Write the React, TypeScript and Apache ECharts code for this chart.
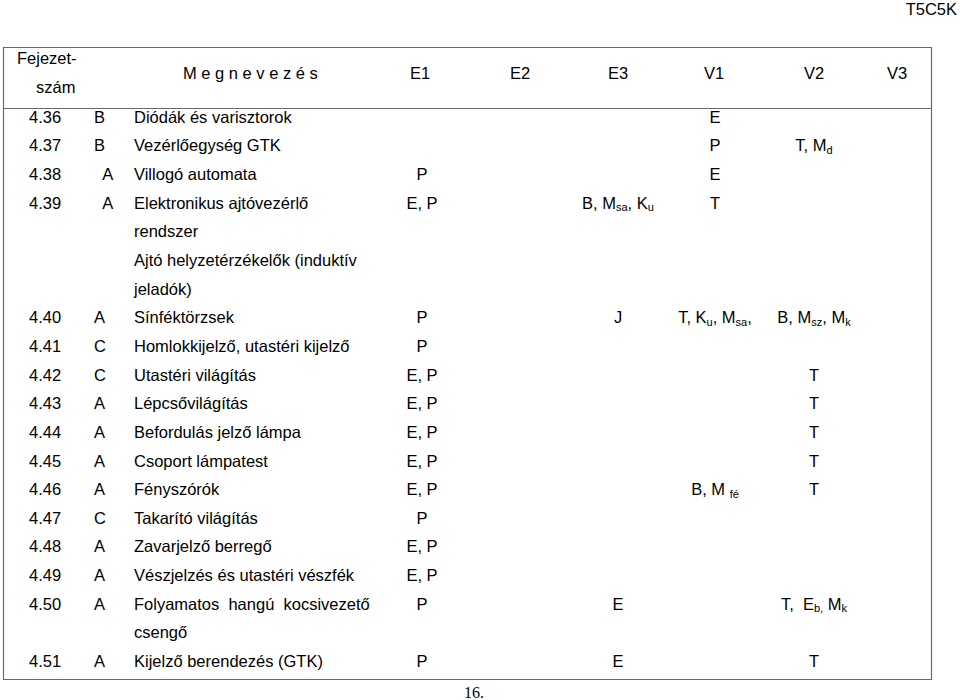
import React, { useEffect, useRef } from "react";
import * as echarts from "echarts";

// ---- Data ----
const rowCodes = ["4.36", "4.37", "4.38", "4.39", "", "", "", "4.40", "4.41", "4.42", "4.43", "4.44", "4.45", "4.46", "4.47", "4.48", "4.49", "4.50", "", "4.51"];
const rowLevels = ["B", "B", "  A", "  A", "", "", "", "A", "C", "C", "A", "A", "A", "A", "C", "A", "A", "A", "", "A"];
const rowNames = [
  "Diódák és varisztorok",
  "Vezérlőegység GTK",
  "Villogó automata",
  "Elektronikus ajtóvezérlő",
  "rendszer",
  "Ajtó helyzetérzékelők (induktív",
  "jeladók)",
  "Sínféktörzsek",
  "Homlokkijelző, utastéri kijelző",
  "Utastéri világítás",
  "Lépcsővilágítás",
  "Befordulás jelző lámpa",
  "Csoport lámpatest",
  "Fényszórók",
  "Takarító világítás",
  "Zavarjelző berregő",
  "Vészjelzés és utastéri vészfék",
  "Folyamatos  hangú  kocsivezető",
  "csengő",
  "Kijelző berendezés (GTK)",
];
const colE1 = ["", "", "P", "E, P", "", "", "", "P", "P", "E, P", "E, P", "E, P", "E, P", "E, P", "P", "E, P", "E, P", "P", "", "P"];
const colE2 = ["", "", "", "", "", "", "", "", "", "", "", "", "", "", "", "", "", "", "", ""];
const colE3 = ["", "", "", "B, M{s|sa}, K{s|u}", "", "", "", "J", "", "", "", "", "", "", "", "", "", "E", "", "E"];
const colV1 = ["E", "P", "E", "T", "", "", "", "T, K{s|u}, M{s|sa},", "", "", "", "", "", "B, M {s|fé}", "", "", "", "", "", ""];
const colV2 = ["", "T, M{s|d}", "", "", "", "", "", "B, M{s|sz}, M{s|k}", "", "T", "T", "T", "T", "T", "", "", "", "T,  E{s|b,} M{s|k}", "", "T"];
const colV3 = ["", "", "", "", "", "", "", "", "", "", "", "", "", "", "", "", "", "", "", ""];
const headerCols = ["E1", "E2", "E3", "V1", "V2", "V3"];
const headerFirst = ["Fejezet-", "szám"];
const headerName = "M e g n e v e z é s";
const docCode = "T5C5K";
const pageNumber = "16.";

// ---- Layout ----
const FONT = "Liberation Sans, Arial, Helvetica, sans-serif";
const FS = 16.5;
const TABLE_L = 3;
const TABLE_R = 931;
const TABLE_T = 47;
const HEAD_B = 108;
const TABLE_B = 679;
const ROW0 = 116.7;
const ROW_STEP = 28.65;
const X_CODE = 29;
const X_LEVEL = 94;
const X_NAME = 134;
const COL_X = [422, 520, 618, 715, 814, 897];
const HEAD_COL_X = [420, 520, 618, 714, 814, 897];

const richSub = {
  s: { fontSize: 11, fontFamily: FONT, fill: "#000", lineHeight: 11, verticalAlign: "bottom" },
};

function txt(text: string, x: number, y: number, align: string, extra: any = {}) {
  return {
    type: "text",
    silent: true,
    style: {
      text,
      x,
      y,
      fill: "#000",
      fontSize: FS,
      fontFamily: FONT,
      align,
      verticalAlign: "middle",
      lineHeight: 20,
      rich: richSub,
      ...extra,
    },
  };
}

export default function App() {
  const ref = useRef<HTMLDivElement>(null);
  useEffect(() => {
    if (!ref.current) return;
    const chart = echarts.init(ref.current, undefined, { renderer: "svg" });
    const els: any[] = [];
    const lineStyle = { stroke: "#6a6a6a", lineWidth: 1.2 };
    // table frame
    els.push({
      type: "rect",
      silent: true,
      shape: { x: TABLE_L + 0.5, y: TABLE_T + 0.5, width: TABLE_R - TABLE_L, height: TABLE_B - TABLE_T },
      style: { fill: "none", ...lineStyle },
    });
    els.push({
      type: "line",
      silent: true,
      shape: { x1: TABLE_L + 0.5, y1: HEAD_B + 0.5, x2: TABLE_R + 0.5, y2: HEAD_B + 0.5 },
      style: lineStyle,
    });
    // header
    els.push(txt(headerFirst[0], 17, 58, "left"));
    els.push(txt(headerFirst[1], 36, 87, "left"));
    els.push(txt(headerName, 183, 73, "left"));
    headerCols.forEach((h, i) => els.push(txt(h, HEAD_COL_X[i], 73, "center")));
    // rows
    const cols = [colE1, colE2, colE3, colV1, colV2, colV3];
    rowNames.forEach((name, i) => {
      const y = ROW0 + ROW_STEP * i;
      if (rowCodes[i]) els.push(txt(rowCodes[i], X_CODE, y, "left"));
      if (rowLevels[i]) els.push(txt(rowLevels[i], X_LEVEL, y, "left"));
      els.push(txt(name, X_NAME, y, "left"));
      cols.forEach((col, c) => {
        if (col[i]) els.push(txt(col[i], COL_X[c], y, "center"));
      });
    });
    // page decorations
    els.push(txt(docCode, 957, 9, "right"));
    els.push(txt(pageNumber, 474, 692, "center", { fontFamily: "Liberation Serif, Times New Roman, serif", fontSize: 16 }));

    chart.setOption({
      animation: false,
      backgroundColor: "#fff",
      graphic: { elements: els },
    });
    return () => chart.dispose();
  }, []);
  return (
    <div
      ref={ref}
      style={{ position: "absolute", left: 0, top: 0, width: 960, height: 700, background: "#fff" }}
    />
  );
}
